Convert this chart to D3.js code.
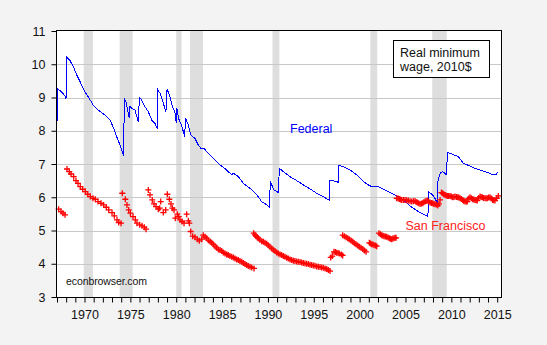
<!DOCTYPE html>
<html>
<head>
<meta charset="utf-8">
<script src="https://cdn.jsdelivr.net/npm/d3@7"></script>
<style>
  body { margin: 0; background: #f3f3f3; }
  svg { display: block; font-family: "Liberation Sans", Arial, sans-serif; }
</style>
</head>
<body>
<script>
// ***************************************
//       DATA
// ***************************************
// federal minimum wage, 2010 dollars: [year, value]
const federal = [
  [1967.00, 8.27], [1967.08, 9.25], [1967.50, 9.17], [1967.87, 9.05], [1967.98, 8.95],
  [1968.08, 10.21], [1968.42, 10.11], [1968.78, 9.93], [1969.15, 9.68], [1969.51, 9.48],
  [1970.05, 9.17], [1970.41, 9.02], [1970.96, 8.77], [1971.50, 8.62], [1972.23, 8.47],
  [1972.78, 8.32], [1973.14, 8.10], [1973.51, 7.82], [1973.87, 7.57], [1974.25, 7.25],
  [1974.30, 8.12], [1974.36, 8.97], [1974.52, 8.87], [1974.78, 8.52], [1974.88, 8.39],
  [1974.96, 8.75], [1975.14, 8.67], [1975.50, 8.62], [1975.87, 8.27], [1975.98, 8.99],
  [1976.16, 8.95], [1976.60, 8.72], [1976.96, 8.57], [1977.33, 8.32], [1977.69, 8.22],
  [1977.94, 8.05], [1978.00, 9.23], [1978.23, 9.13], [1978.59, 8.83], [1978.88, 8.57],
  [1979.00, 9.26], [1979.31, 9.02], [1979.60, 8.72], [1979.90, 8.52], [1980.00, 8.22],
  [1980.08, 8.67], [1980.25, 8.37], [1980.50, 8.22], [1980.68, 8.07], [1980.93, 7.82],
  [1981.00, 8.39], [1981.32, 8.17], [1981.60, 7.87], [1982.05, 7.77], [1982.40, 7.57],
  [1982.70, 7.47], [1983.06, 7.47], [1983.32, 7.37], [1984.05, 7.17], [1984.78, 6.97],
  [1985.50, 6.82], [1986.05, 6.67], [1986.23, 6.72], [1986.77, 6.62], [1987.32, 6.42],
  [1988.05, 6.27], [1988.78, 6.07], [1989.32, 5.87], [1989.87, 5.77], [1990.17, 5.70],
  [1990.21, 6.07], [1990.26, 6.47], [1990.66, 6.22], [1991.15, 6.14], [1991.24, 6.87],
  [1991.68, 6.77], [1992.41, 6.62], [1993.14, 6.50], [1993.86, 6.37], [1994.59, 6.25],
  [1995.32, 6.12], [1996.04, 6.02], [1996.72, 5.90], [1996.77, 6.52], [1997.50, 6.47],
  [1997.66, 6.45], [1997.68, 6.97], [1998.22, 6.92], [1998.95, 6.82], [1999.68, 6.67],
  [2000.41, 6.47], [2001.13, 6.34], [2001.68, 6.32], [2002.04, 6.32], [2002.77, 6.22],
  [2003.50, 6.12], [2004.22, 6.02], [2004.95, 5.87], [2005.68, 5.70], [2006.40, 5.57],
  [2007.13, 5.47], [2007.45, 5.41], [2007.50, 6.17], [2008.04, 6.05], [2008.50, 5.82],
  [2008.55, 6.52], [2008.80, 6.72], [2009.00, 6.77], [2009.30, 6.72], [2009.50, 6.67],
  [2009.55, 7.35], [2010.04, 7.30], [2010.76, 7.22], [2011.31, 7.02], [2012.04, 6.94],
  [2012.58, 6.87], [2013.31, 6.80], [2014.04, 6.74], [2014.47, 6.67], [2014.84, 6.67],
  [2015.06, 6.75]
];

// San Francisco minimum wage, 2010 dollars: [year, value]
const sanFrancisco = [
  [1967.18, 5.64], [1967.44, 5.57], [1967.65, 5.52], [1967.87, 5.47],
  [1968.09, 6.85], [1968.34, 6.77], [1968.53, 6.70], [1968.82, 6.62], [1969.07, 6.50],
  [1969.29, 6.42], [1969.54, 6.32], [1969.80, 6.24], [1970.09, 6.17], [1970.35, 6.09],
  [1970.63, 6.02], [1970.93, 5.97], [1971.18, 5.94], [1971.47, 5.87], [1971.80, 5.82],
  [1972.09, 5.77], [1972.38, 5.70], [1972.64, 5.62], [1973.00, 5.54], [1973.25, 5.44],
  [1973.54, 5.32], [1973.73, 5.24], [1973.98, 5.22],
  [1974.12, 6.12], [1974.45, 5.94], [1974.63, 5.77], [1974.82, 5.62], [1975.00, 5.52],
  [1975.29, 5.42], [1975.54, 5.32], [1975.72, 5.22], [1976.02, 5.17], [1976.27, 5.14],
  [1976.52, 5.10], [1976.71, 5.04],
  [1976.96, 6.22], [1977.14, 6.07], [1977.39, 5.92], [1977.58, 5.80], [1977.80, 5.72],
  [1978.05, 5.64], [1978.20, 5.67], [1978.31, 5.87], [1978.59, 5.54], [1978.85, 5.62],
  [1979.03, 6.09], [1979.25, 5.94], [1979.43, 5.80], [1979.58, 5.67], [1979.76, 5.62],
  [1979.90, 5.37], [1980.12, 5.49], [1980.27, 5.42], [1980.41, 5.32], [1980.63, 5.27],
  [1980.85, 5.22], [1981.14, 5.49], [1981.32, 5.29], [1981.43, 5.22], [1981.58, 4.97],
  [1981.80, 4.83], [1982.05, 4.80], [1982.30, 4.74], [1982.52, 4.69], [1982.78, 4.74],
  [1982.95, 4.86], [1983.14, 4.81], [1983.32, 4.77], [1983.50, 4.71], [1983.70, 4.67],
  [1983.87, 4.63], [1984.05, 4.58], [1984.23, 4.53], [1984.41, 4.48], [1984.59, 4.43],
  [1984.78, 4.41], [1984.96, 4.38], [1985.14, 4.34], [1985.32, 4.31], [1985.50, 4.28],
  [1985.68, 4.26], [1985.86, 4.23], [1986.05, 4.21], [1986.23, 4.19], [1986.41, 4.16],
  [1986.59, 4.13], [1986.77, 4.11], [1986.95, 4.08], [1987.14, 4.06], [1987.32, 4.02],
  [1987.50, 3.99], [1987.68, 3.96], [1987.86, 3.93], [1988.05, 3.91], [1988.23, 3.89],
  [1988.48, 3.86],
  [1988.45, 4.92], [1988.58, 4.87], [1988.70, 4.83], [1988.83, 4.80], [1988.95, 4.77],
  [1989.13, 4.72], [1989.32, 4.68], [1989.50, 4.66], [1989.68, 4.63], [1989.86, 4.60],
  [1990.04, 4.56], [1990.22, 4.51], [1990.41, 4.46], [1990.59, 4.42], [1990.77, 4.38],
  [1990.95, 4.34], [1991.13, 4.31], [1991.32, 4.28], [1991.50, 4.26], [1991.68, 4.23],
  [1991.86, 4.21], [1992.04, 4.18], [1992.22, 4.16], [1992.41, 4.13], [1992.59, 4.11],
  [1992.77, 4.09], [1992.95, 4.08], [1993.13, 4.07], [1993.31, 4.06], [1993.50, 4.05],
  [1993.68, 4.04], [1993.86, 4.02], [1994.04, 4.01], [1994.22, 4.00], [1994.41, 3.99],
  [1994.59, 3.97], [1994.77, 3.96], [1994.95, 3.95], [1995.13, 3.94], [1995.32, 3.92],
  [1995.50, 3.91], [1995.68, 3.90], [1995.86, 3.89], [1996.04, 3.88], [1996.23, 3.86],
  [1996.41, 3.84], [1996.59, 3.81], [1996.77, 3.78],
  [1996.85, 4.19], [1997.02, 4.23], [1997.20, 4.36], [1997.35, 4.35], [1997.50, 4.33],
  [1997.65, 4.32], [1997.78, 4.31], [1998.00, 4.28], [1998.15, 4.25],
  [1998.15, 4.86], [1998.33, 4.83], [1998.52, 4.80], [1998.70, 4.77], [1998.87, 4.74],
  [1999.06, 4.70], [1999.25, 4.66], [1999.42, 4.62], [1999.60, 4.59], [1999.78, 4.55],
  [1999.97, 4.51], [2000.15, 4.48], [2000.34, 4.44], [2000.52, 4.40], [2000.70, 4.36],
  [2001.06, 4.63], [2001.19, 4.61], [2001.32, 4.59], [2001.45, 4.58], [2001.57, 4.56],
  [2001.72, 4.55], [2001.86, 4.53],
  [2002.11, 4.92], [2002.26, 4.89], [2002.41, 4.86], [2002.54, 4.84], [2002.66, 4.83],
  [2002.80, 4.82], [2002.95, 4.81], [2003.10, 4.79], [2003.24, 4.77], [2003.37, 4.75],
  [2003.50, 4.74], [2003.62, 4.76], [2003.75, 4.77], [2003.87, 4.78], [2003.97, 4.78],
  [2004.04, 5.97], [2004.20, 5.96], [2004.33, 5.95], [2004.46, 5.93], [2004.59, 5.92],
  [2004.77, 5.92], [2004.95, 5.92], [2005.13, 5.91], [2005.31, 5.90], [2005.50, 5.88],
  [2005.68, 5.87], [2005.86, 5.88], [2006.04, 5.89], [2006.16, 5.86], [2006.29, 5.84],
  [2006.44, 5.82], [2006.59, 5.80], [2006.73, 5.81], [2006.88, 5.82], [2007.00, 5.85],
  [2007.13, 5.87], [2007.25, 5.89], [2007.38, 5.90], [2007.53, 5.87], [2007.68, 5.84],
  [2007.82, 5.83], [2007.97, 5.82], [2008.10, 5.80], [2008.22, 5.79], [2008.37, 5.78],
  [2008.52, 5.75], [2008.65, 5.80], [2008.77, 5.92],
  [2008.92, 6.14], [2009.06, 6.12], [2009.18, 6.09], [2009.31, 6.07], [2009.43, 6.05],
  [2009.56, 6.04], [2009.71, 6.04], [2009.86, 6.04], [2010.00, 6.02], [2010.15, 6.00],
  [2010.28, 6.01], [2010.40, 6.02], [2010.55, 6.01], [2010.70, 6.00], [2010.82, 5.99],
  [2010.95, 5.97], [2011.10, 5.95], [2011.24, 5.92], [2011.36, 5.89], [2011.49, 5.87],
  [2011.62, 5.87], [2011.74, 5.87], [2011.90, 5.96], [2012.04, 6.00], [2012.18, 5.97],
  [2012.33, 5.94], [2012.45, 5.93], [2012.58, 5.92], [2012.70, 5.91], [2012.83, 5.90],
  [2012.98, 5.98], [2013.13, 6.02], [2013.25, 6.01], [2013.38, 6.00], [2013.52, 5.98],
  [2013.67, 5.97], [2013.80, 5.97], [2013.92, 5.97], [2014.07, 5.99], [2014.22, 6.00],
  [2014.36, 5.96], [2014.51, 5.92], [2014.63, 5.91], [2014.76, 5.90], [2014.95, 5.97],
  [2015.12, 6.04]
];

// NBER recessions: [start, end] in years
const recessions = [
  [1969 + 11 / 12, 1970 + 11 / 12], [1973 + 10 / 12, 1975 + 3 / 12],
  [1980 + 0 / 12, 1980 + 7 / 12], [1981 + 6 / 12, 1982 + 11 / 12],
  [1990 + 6 / 12, 1991 + 3 / 12], [2001 + 2 / 12, 2001 + 11 / 12],
  [2007 + 11 / 12, 2009 + 6 / 12]
];

const yearTicks = d3.range(1967, 2016);
const yTicks = [3, 4, 5, 6, 7, 8, 9, 10, 11];
const legendLines = ["Real minimum", "wage, 2010$"];

// ***************************************
//       DIMENSIONS
// ***************************************
const width = 547;
const height = 345;
const plotLeft = 57, plotRight = 501.5, plotTop = 31, plotBottom = 297;

const svg = d3.select("body")
  .append("svg")
  .attr("width", width)
  .attr("height", height);

const x = d3.scaleLinear().domain([1967, 2015.47]).range([plotLeft, plotRight]);
const y = d3.scaleLinear().domain([3, 11]).range([plotBottom, plotTop]);

// plot background
svg.append("rect")
  .attr("x", plotLeft).attr("y", plotTop)
  .attr("width", plotRight - plotLeft).attr("height", plotBottom - plotTop)
  .attr("fill", "white");

// recession shading
svg.append("g")
  .selectAll("rect")
  .data(recessions)
  .enter()
  .append("rect")
  .attr("x", d => x(d[0]))
  .attr("y", plotTop)
  .attr("width", d => x(d[1]) - x(d[0]))
  .attr("height", plotBottom - plotTop)
  .attr("fill", "#dedede");

// gridlines
svg.append("g")
  .selectAll("line")
  .data(yTicks.slice(1, -1))
  .enter()
  .append("line")
  .attr("x1", plotLeft).attr("x2", plotRight)
  .attr("y1", d => Math.round(y(d)) + 0.5)
  .attr("y2", d => Math.round(y(d)) + 0.5)
  .attr("stroke", "#c8c8c8")
  .attr("stroke-width", 1);

// ***************************************
//       AXES
// ***************************************
const xAxis = svg.append("g")
  .attr("transform", "translate(0," + (plotBottom + 0.5) + ")")
  .call(d3.axisBottom(x)
    .tickValues(yearTicks)
    .tickFormat(d => d % 5 === 0 ? d : "")
    .tickSize(5)
    .tickSizeOuter(0));
xAxis.select(".domain").remove();
xAxis.selectAll("text")
  .attr("dy", "1.05em")
  .style("font-size", "12.5px")
  .style("fill", "#111");

const yAxis = svg.append("g")
  .attr("transform", "translate(" + (plotLeft - 0.5) + ",0)")
  .call(d3.axisLeft(y)
    .tickValues(yTicks)
    .tickSize(5)
    .tickSizeOuter(0));
yAxis.select(".domain").remove();
yAxis.selectAll("text")
  .attr("x", -11)
  .style("font-size", "12.5px")
  .style("fill", "#111");

// ***************************************
//       SERIES
// ***************************************
const line = d3.line()
  .x(d => x(d[0]))
  .y(d => y(d[1]));

svg.append("path")
  .datum(federal)
  .attr("d", line)
  .attr("fill", "none")
  .attr("stroke", "#0000ff")
  .attr("stroke-width", 1)
  .style("shape-rendering", "crispEdges");

svg.append("g")
  .selectAll("path")
  .data(sanFrancisco)
  .enter()
  .append("path")
  .attr("transform", d => "translate(" + x(d[0]) + "," + y(d[1]) + ")")
  .attr("d", "M-3,0H3M0,-3V3")
  .attr("fill", "none")
  .attr("stroke", "#ff0000")
  .attr("stroke-width", 1.3);

// plot frame
svg.append("rect")
  .attr("x", plotLeft - 0.5).attr("y", plotTop - 0.5)
  .attr("width", plotRight - plotLeft + 0.5).attr("height", plotBottom - plotTop + 1)
  .attr("fill", "none")
  .attr("stroke", "black")
  .attr("stroke-width", 1);

// ***************************************
//       LABELS
// ***************************************
svg.append("text")
  .attr("x", 290).attr("y", 132.5)
  .text("Federal")
  .style("font-size", "12.5px")
  .style("fill", "#0000ff");

svg.append("text")
  .attr("x", 405.5).attr("y", 230)
  .text("San Francisco")
  .style("font-size", "12.5px")
  .style("fill", "#ff2020");

svg.append("text")
  .attr("x", 66).attr("y", 284.5)
  .text("econbrowser.com")
  .style("font-size", "10.5px")
  .attr("textLength", 81)
  .style("fill", "#111");

// legend box
svg.append("rect")
  .attr("x", 393.5).attr("y", 40.5)
  .attr("width", 96).attr("height", 37)
  .attr("fill", "white")
  .attr("stroke", "black");

svg.append("g")
  .selectAll("text")
  .data(legendLines)
  .enter()
  .append("text")
  .attr("x", 400)
  .attr("y", (d, i) => 56.5 + i * 14.5)
  .text(d => d)
  .style("font-size", "12.5px")
  .style("fill", "#111");
</script>
</body>
</html>
